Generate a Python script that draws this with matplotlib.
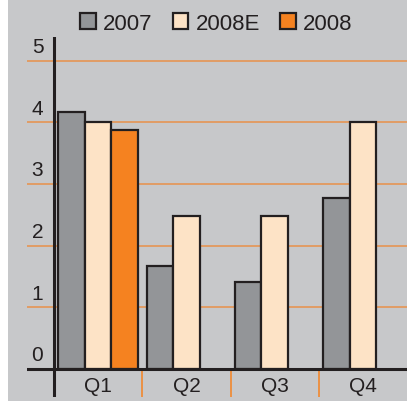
import matplotlib
matplotlib.use("Agg")
import matplotlib.pyplot as plt
from matplotlib.patches import Rectangle, Patch
import numpy as np

categories = ["Q1", "Q2", "Q3", "Q4"]
series_names = ["2007", "2008E", "2008"]
values_2007 = [4.17, 1.67, 1.41, 2.77]
values_2008E = [4.0, 2.48, 2.48, 4.0]
values_2008 = [3.87, np.nan, np.nan, np.nan]
y_ticks = [0, 1, 2, 3, 4, 5]

BG = "#c7c8ca"
GRAY = "#939598"
CREAM = "#fde3c6"
ORANGE = "#f58220"
GRID = "#e8914a"
DARK = "#231f20"

plt.rcParams["font.family"] = ["Liberation Sans", "DejaVu Sans"]

W, H = 407, 402
fig = plt.figure(figsize=(W / 100, H / 100), dpi=100)
fig.patch.set_facecolor("white")
fig.add_artist(Rectangle((8 / W, 0), 1 - 8 / W, 1, transform=fig.transFigure,
                         facecolor=BG, edgecolor="none", zorder=0))

# axes spans pixel x 27..407, y 38..398
ax = fig.add_axes([27 / W, (H - 398) / H, (407 - 27) / W, (398 - 38) / H])
ax.set_facecolor("none")
for s in ax.spines.values():
    s.set_visible(False)
ax.set_xticks([])
ax.set_yticks([])

px_x = 88.25  # pixels per category
px_y = 61.7   # pixels per unit
x_left = -0.5 - 27 / px_x
ax.set_xlim(x_left, 3.5)
ax.set_ylim(-28 / px_y, (370 - 38) / px_y)

# gridlines
for t in y_ticks[1:]:
    ax.axhline(t, color=GRID, lw=1.1, zorder=1)

x = np.arange(len(categories))
bw = 0.30
start = -0.5 + 0.05
series = [values_2007, values_2008E, values_2008]
colors = [GRAY, CREAM, ORANGE]
for k, (vals, col) in enumerate(zip(series, colors)):
    ax.bar(x + start + k * bw, vals, width=bw, align="edge", color=col,
           edgecolor=DARK, linewidth=1.6, zorder=3)

# axes lines
ax.axhline(0, color=DARK, lw=2.2, zorder=5)
ax.axvline(-0.5, color=DARK, lw=2.2, zorder=5)
for b in x[:-1] + 0.5:
    ax.plot([b, b], [ax.get_ylim()[0], 0], color=ORANGE, lw=1.1, zorder=4)

# y tick labels above gridlines
for t in y_ticks:
    ax.text(x_left + 10.5 / px_x, t + 14 / px_y, str(t), ha="center", va="center",
            fontsize=15, color=DARK)

# category labels
for xi, c in zip(x, categories):
    ax.text(xi, -17 / px_y, c, ha="center", va="center", fontsize=15, color=DARK)

handles = [Patch(facecolor=c, edgecolor=DARK, linewidth=1.6) for c in colors]
fig.legend(handles, series_names, loc="center", bbox_to_anchor=(216.5 / W, 1 - 24 / H),
           ncol=3, frameon=False, fontsize=16, handlelength=0.7, handleheight=0.7,
           handletextpad=0.33, columnspacing=0.9, labelcolor=DARK, borderpad=0)

fig.savefig("out.png", dpi=100, facecolor=fig.get_facecolor())
